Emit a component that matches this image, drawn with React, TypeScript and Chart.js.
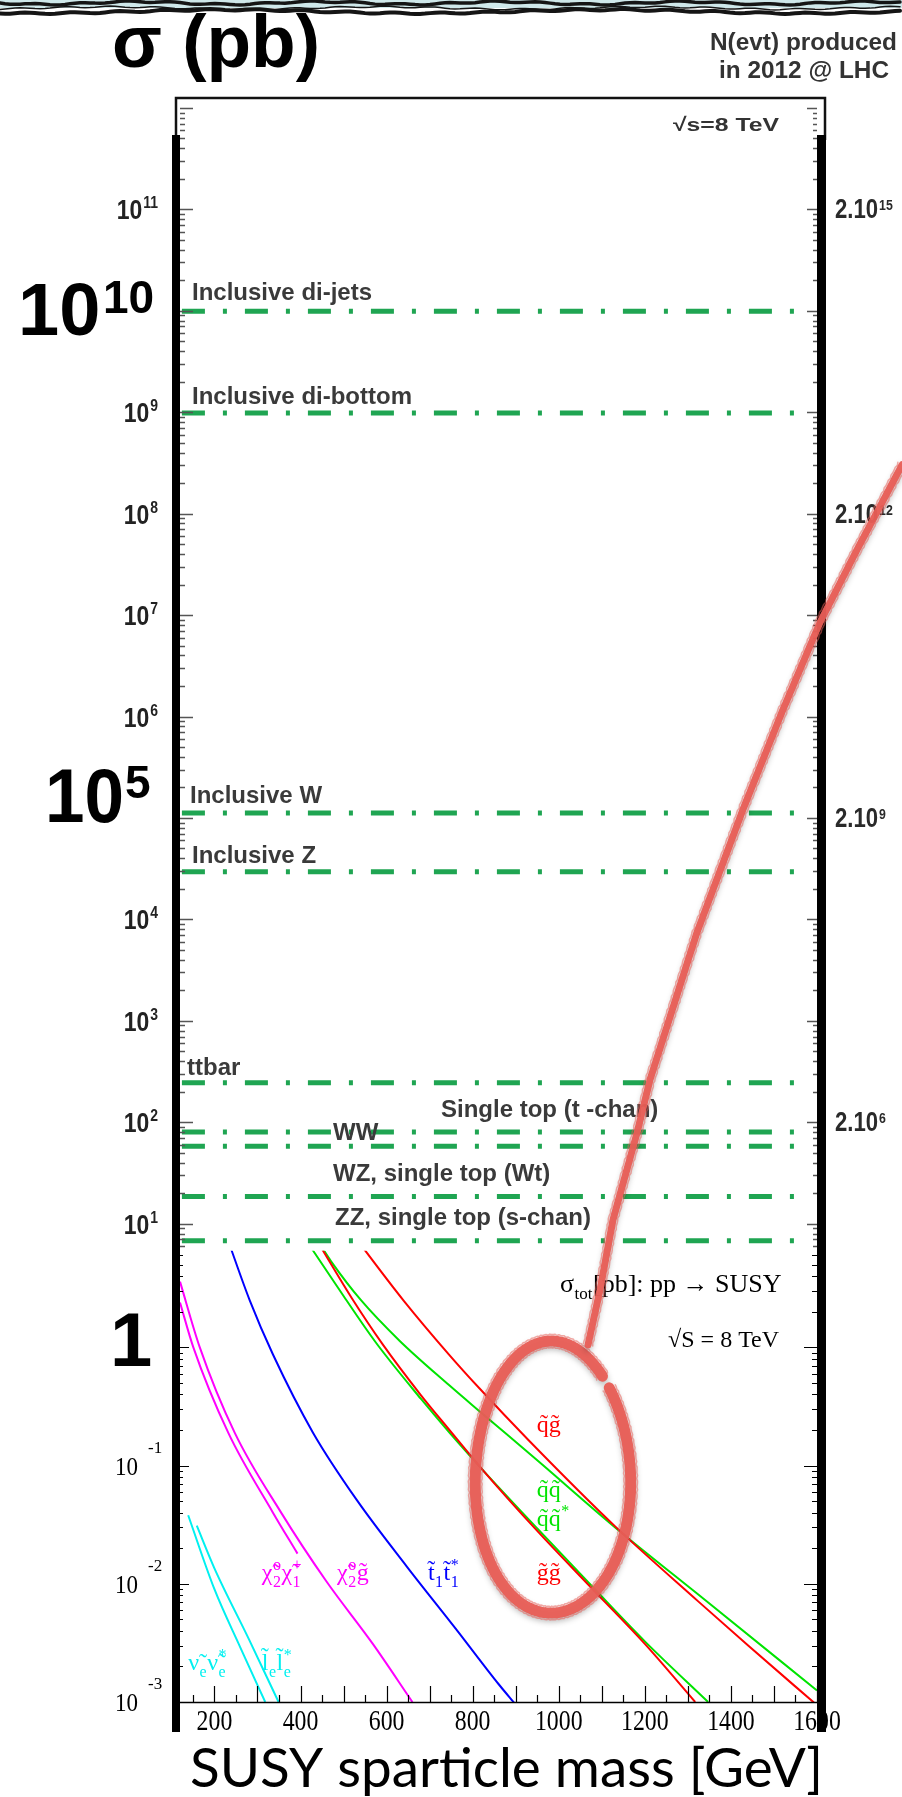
import { useEffect, useRef } from 'react';
import { Chart, registerables } from 'chart.js';

Chart.register(...registerables);

// ---- Standard-model processes at √s = 8 TeV (σ in pb) ----
const processNames = [
  'Inclusive di-jets',
  'Inclusive di-bottom',
  'Inclusive W',
  'Inclusive Z',
  'ttbar',
  'Single top (t -chan)',
  'WW',
  'WZ, single top (Wt)',
  'ZZ, single top (s-chan)',
];
const processXsec = [9.9e9, 9.8e8, 1.12e5, 2.95e4, 245, 80, 58, 18.5, 6.8];

// Events produced in 2012: N = σ × ∫L with ∫L = 20 fb⁻¹ = 2·10⁴ pb⁻¹
const lumiInvPb = 2e4;
const eventCounts = [2e15, 2e12, 2e9, 2e6];
const eventExps = ['15', '12', '9', '6'];

// Labelled decades
const upperDecadeLabels = [11, 9, 8, 7, 6, 4, 3, 2, 1];
const lowerDecadeLabels = [-1, -2, -3];
const massTickLabels = [200, 400, 600, 800, 1000, 1200, 1400, 1600];

// ---- SUSY pair production, σ (pb) vs sparticle mass (GeV) ----
const sqglMass = [530, 545, 640, 745, 815, 930, 1131, 1324, 1440, 1600];
const sqglXsec = [8.3, 7.0, 2.48, 0.87, 0.453, 0.164, 0.0306, 0.0071, 0.003, 0.00094];
const glglMass = [440, 452, 520, 591, 680, 745, 822, 950, 1070, 1200, 1317];
const glglXsec = [7.8, 6.6, 2.58, 1.06, 0.393, 0.202, 0.093, 0.028, 0.0097, 0.0031, 0.001];
const sqsqMass = [445, 455, 471, 540, 630, 745, 815, 950, 1131, 1340, 1600];
const sqsqXsec = [7.5, 6.55, 5.35, 2.52, 1.14, 0.48, 0.29, 0.111, 0.03, 0.0073, 0.00125];
const sqasqMass = [418, 429, 500, 575, 680, 745, 822, 950, 1080, 1200, 1347];
const sqasqXsec = [7.6, 6.6, 2.72, 1.1, 0.366, 0.192, 0.093, 0.0294, 0.0093, 0.00326, 0.001];
const stopMass = [225, 240, 282, 336, 429, 531, 647, 760, 860, 900];
const stopXsec = [9.5, 6.6, 2.5, 0.87, 0.19, 0.051, 0.014, 0.0042, 0.00142, 0.00095];
const n2glMass = [120, 166, 247, 355, 460, 568, 660];
const n2glXsec = [3.6, 1.0, 0.19, 0.04, 0.0105, 0.0031, 0.001];
const n2c1Mass = [120, 151, 232, 336, 393];
const n2c1Xsec = [2.4, 1.0, 0.19, 0.04, 0.018];
const snuMass = [139, 200, 260, 318];
const snuXsec = [0.038, 0.009, 0.0029, 0.001];
const selMass = [159, 200, 280, 349];
const selXsec = [0.031, 0.0135, 0.0034, 0.001];

// Hand-drawn callout (in GeV / pb of the SUSY panel)
const ringMass = [805, 1166];
const ringXsec = [1.1, 0.0055];
const pointerMass = [1068, 1096, 1126, 1182, 1212, 1321, 1428, 1519, 1607, 1693, 1798];
const pointerXsec = [1.05, 3.08, 12.0, 65.5, 184, 3230, 3.55e4, 2.39e5, 1.36e6, 5.6e6, 2.94e7];

const RED = '#ff0000';
const GREEN = '#00e400';
const BLUE = '#0000ff';
const MAGENTA = '#ff00ff';
const CYAN = '#00f0f0';
const SM_GREEN = '#1fa552';
const INK = '#3a3a3a';

// Layout of the two stacked panels (canvas pixels)
const AREA = { left: 180, right: 817, top: 100, bottom: 1702 };
const UPPER_BOTTOM = 1250.7;
const processLabelDx = [12, 12, 10, 12, 7, 261, 153, 153, 155];
const processLabelRise = [11, 9, 10, 9, 8, 15, 6, 16, 16];

type Run = { t: string; sub?: string; sup?: string };
const T = '\u0303';
const susyLabels: { runs: Run[]; color: string; m: number; s: number; size: number }[] = [
  { runs: [{ t: `q${T}g${T}` }], color: RED, m: 949, s: 0.194, size: 24 },
  { runs: [{ t: `q${T}q${T}` }], color: GREEN, m: 949, s: 0.0543, size: 24 },
  { runs: [{ t: `q${T}q${T}`, sup: '*' }], color: GREEN, m: 949, s: 0.031, size: 24 },
  { runs: [{ t: `g${T}g${T}` }], color: RED, m: 949, s: 0.0108, size: 24 },
  { runs: [{ t: `χ${T}`, sub: '2', sup: 'o' }, { t: `χ${T}`, sub: '1', sup: '+' }], color: MAGENTA, m: 310, s: 0.0108, size: 24 },
  { runs: [{ t: `χ${T}`, sub: '2', sup: 'o' }, { t: `g${T}` }], color: MAGENTA, m: 485, s: 0.0108, size: 24 },
  { runs: [{ t: `t${T}`, sub: '1' }, { t: `t${T}`, sub: '1', sup: '*' }], color: BLUE, m: 696, s: 0.0108, size: 24 },
  { runs: [{ t: `ν${T}`, sub: 'e' }, { t: `ν${T}`, sub: 'e', sup: '*' }], color: CYAN, m: 139, s: 0.00187, size: 24 },
  { runs: [{ t: `l${T}`, sub: 'e' }, { t: `l${T}`, sub: 'e', sup: '*' }], color: CYAN, m: 310, s: 0.00187, size: 24 },
  { runs: [{ t: 'σ', sub: 'tot' }, { t: '[pb]: pp → SUSY' }], color: '#000', m: 1003, s: 2.96, size: 26 },
  { runs: [{ t: '√S = 8 TeV' }], color: '#000', m: 1254, s: 1.0, size: 24 },
];

function put(
  ctx: CanvasRenderingContext2D,
  s: string,
  x: number,
  y: number,
  font: string,
  color: string,
  opts: { align?: 'left' | 'center' | 'right'; sx?: number; width?: number } = {},
) {
  ctx.save();
  ctx.font = font;
  ctx.fillStyle = color;
  ctx.textBaseline = 'alphabetic';
  ctx.textAlign = 'left';
  const w = ctx.measureText(s).width;
  const sx = opts.width ? opts.width / w : opts.sx ?? 1;
  const sw = w * sx;
  let x0 = x;
  if (opts.align === 'center') x0 = x - sw / 2;
  else if (opts.align === 'right') x0 = x - sw;
  ctx.translate(x0, y);
  ctx.scale(sx, 1);
  ctx.fillText(s, 0, 0);
  ctx.restore();
  return sw;
}

function widthOf(ctx: CanvasRenderingContext2D, s: string, font: string, sx = 1) {
  ctx.save();
  ctx.font = font;
  const w = ctx.measureText(s).width * sx;
  ctx.restore();
  return w;
}

function drawRuns(ctx: CanvasRenderingContext2D, runs: Run[], x: number, y: number, size: number, color: string) {
  ctx.save();
  ctx.fillStyle = color;
  ctx.textAlign = 'left';
  ctx.textBaseline = 'alphabetic';
  const small = Math.round(size * 0.66);
  let cx = x;
  for (const r of runs) {
    ctx.font = `${size}px "Liberation Serif"`;
    ctx.fillText(r.t, cx, y);
    cx += ctx.measureText(r.t).width;
    ctx.font = `${small}px "Liberation Serif"`;
    let adv = 0;
    if (r.sub) {
      ctx.fillText(r.sub, cx + 0.5, y + size * 0.3);
      adv = Math.max(adv, ctx.measureText(r.sub).width + 1);
    }
    if (r.sup) {
      ctx.fillText(r.sup, cx + 0.5, y - size * 0.42);
      adv = Math.max(adv, ctx.measureText(r.sup).width + 1);
    }
    cx += adv;
  }
  ctx.restore();
}

function decadeTicks(
  ctx: CanvasRenderingContext2D,
  scale: any,
  x0: number,
  dir: number,
  from: number,
  to: number,
  major: number,
  minor: number,
) {
  ctx.beginPath();
  for (let k = -4; k <= 13; k++) {
    for (let m = 1; m <= 9; m++) {
      const py = scale.getPixelForValue(m * Math.pow(10, k));
      if (py < from - 0.5 || py > to + 0.5) continue;
      const yy = Math.round(py) + 0.5;
      ctx.moveTo(x0, yy);
      ctx.lineTo(x0 + dir * (m === 1 ? major : minor), yy);
    }
  }
  ctx.stroke();
}

function densify(pts: [number, number][], step: number) {
  const out: [number, number][] = [];
  for (let i = 0; i < pts.length - 1; i++) {
    const [ax, ay] = pts[i];
    const [bx, by] = pts[i + 1];
    const n = Math.max(1, Math.ceil(Math.hypot(bx - ax, by - ay) / step));
    for (let j = 0; j < n; j++) out.push([ax + ((bx - ax) * j) / n, ay + ((by - ay) * j) / n]);
  }
  out.push(pts[pts.length - 1]);
  return out;
}

// crayon-like stroke with ragged edges and a soft drop shadow
function roughStroke(ctx: CanvasRenderingContext2D, pts: [number, number][], width: number, color: string) {
  ctx.save();
  ctx.lineCap = 'round';
  ctx.lineJoin = 'round';
  ctx.strokeStyle = color;
  ctx.shadowColor = 'rgba(0,0,0,0.3)';
  ctx.shadowBlur = 6;
  ctx.shadowOffsetY = 3;
  ctx.lineWidth = width;
  ctx.beginPath();
  pts.forEach(([px, py], i) => (i ? ctx.lineTo(px, py) : ctx.moveTo(px, py)));
  ctx.stroke();
  ctx.shadowColor = 'transparent';
  for (const side of [-1, 1]) {
    ctx.lineWidth = 1.5;
    ctx.globalAlpha = 0.55;
    ctx.beginPath();
    pts.forEach(([px, py], i) => {
      const a = pts[Math.max(0, i - 1)];
      const b = pts[Math.min(pts.length - 1, i + 1)];
      const dx = b[0] - a[0];
      const dy = b[1] - a[1];
      const L = Math.hypot(dx, dy) || 1;
      const off = side * (width / 2 + 0.4 + 1.1 * Math.abs(Math.sin(i * 1.9 + side)));
      const X = px - (dy / L) * off;
      const Y = py + (dx / L) * off;
      if (i === 0) ctx.moveTo(X, Y);
      else ctx.lineTo(X, Y);
    });
    ctx.stroke();
  }
  ctx.restore();
}

const panelPlugin = {
  id: 'xsecPanels',
  afterDraw(chart: any) {
    const ctx: CanvasRenderingContext2D = chart.ctx;
    const { left, right, top, bottom } = chart.chartArea;
    const xs = chart.scales.x;
    const yHi = chart.scales.yHigh;
    const yLo = chart.scales.yLow;

    // sketchy torn band along the very top
    ctx.save();
    ctx.fillStyle = '#cfe8ea';
    ctx.fillRect(0, 0, 902, 8);
    ctx.strokeStyle = '#151515';
    ctx.lineCap = 'round';
    const band = (base: number, a: number, p: number, ph: number, w: number) => {
      ctx.lineWidth = w;
      ctx.beginPath();
      for (let px = 0; px <= 902; px += 5) {
        const py = base + a * Math.sin(px / p + ph) + 0.7 * Math.sin(px / 7.3 + ph);
        if (px === 0) ctx.moveTo(px, py);
        else ctx.lineTo(px, py);
      }
      ctx.stroke();
    };
    band(3, 1.4, 29, 0, 3.5);
    band(11.5, 1.8, 61, 1, 4);
    band(8, 1.2, 43, 2.2, 1.5);
    ctx.restore();

    // SM process names above their lines
    processNames.forEach((name, i) => {
      const py = yHi.getPixelForValue(processXsec[i]);
      put(ctx, name, left + processLabelDx[i], py - processLabelRise[i], 'bold 24px "Liberation Sans"', INK);
    });

    // tick marks, upper panel
    ctx.save();
    ctx.strokeStyle = '#555';
    ctx.lineWidth = 1.5;
    decadeTicks(ctx, yHi, left, 1, top, UPPER_BOTTOM, 13, 5);
    decadeTicks(ctx, yHi, right, -1, top, UPPER_BOTTOM, 10, 4);
    ctx.restore();

    // tick marks, lower panel
    ctx.save();
    ctx.strokeStyle = '#000';
    ctx.lineWidth = 1.2;
    decadeTicks(ctx, yLo, left, 1, UPPER_BOTTOM, bottom, 9, 3);
    decadeTicks(ctx, yLo, right, -1, UPPER_BOTTOM, bottom, 13, 5);
    ctx.beginPath();
    for (let m = 150; m <= 1600; m += 50) {
      const px = Math.round(xs.getPixelForValue(m)) + 0.5;
      ctx.moveTo(px, bottom);
      ctx.lineTo(px, bottom - (m % 100 === 0 ? 16 : 7));
    }
    ctx.stroke();
    ctx.lineWidth = 1.5;
    ctx.beginPath();
    ctx.moveTo(left, bottom + 0.5);
    ctx.lineTo(right, bottom + 0.5);
    ctx.stroke();
    ctx.restore();

    // left labels of the upper panel
    const sxN = 0.82;
    upperDecadeLabels.forEach((e) => {
      const py = yHi.getPixelForValue(Math.pow(10, e));
      const bf = 'bold 28px "Liberation Sans"';
      const sf = 'bold 17px "Liberation Sans"';
      const sw = widthOf(ctx, String(e), sf, sxN);
      const bw = widthOf(ctx, '10', bf, sxN);
      put(ctx, '10', 158 - sw - bw - 1, py + 10, bf, '#222', { sx: sxN });
      put(ctx, String(e), 158 - sw, py - 1, sf, '#222', { sx: sxN });
    });

    // right labels: number of events
    eventCounts.forEach((n, i) => {
      const py = yHi.getPixelForValue(n / lumiInvPb);
      const w = put(ctx, '2.10', right + 18, py + 9, 'bold 27px "Liberation Sans"', '#2a2a2a', { sx: sxN });
      put(ctx, eventExps[i], right + 19 + w, py + 1, 'bold 15px "Liberation Sans"', '#2a2a2a', { sx: sxN });
    });

    // lower panel labels
    lowerDecadeLabels.forEach((e) => {
      const py = yLo.getPixelForValue(Math.pow(10, e));
      put(ctx, '10', 138, py + 9, '25px "Liberation Serif"', '#000', { align: 'right', sx: 0.92 });
      put(ctx, String(e), 148, py - 13, '17px "Liberation Serif"', '#000');
    });
    massTickLabels.forEach((m) => {
      put(ctx, String(m), xs.getPixelForValue(m), 1730, '29px "Liberation Serif"', '#000', { align: 'center', sx: 0.82 });
    });
    susyLabels.forEach((l) => {
      drawRuns(ctx, l.runs, xs.getPixelForValue(l.m), yLo.getPixelForValue(l.s), l.size, l.color);
    });

    // upper panel frame and the heavy side bars
    ctx.save();
    ctx.strokeStyle = '#111';
    ctx.lineWidth = 2.5;
    ctx.beginPath();
    ctx.moveTo(176, 140);
    ctx.lineTo(176, 98);
    ctx.lineTo(825, 98);
    ctx.lineTo(825, 140);
    ctx.stroke();
    ctx.fillStyle = '#000';
    ctx.fillRect(172, 135, 8, 1597);
    ctx.fillRect(817, 135, 9, 1597);
    ctx.restore();

    // big decade call-outs
    const e10 = yHi.getPixelForValue(1e10);
    put(ctx, '10', 18, e10 + 24, 'bold 74px "Liberation Sans"', '#000');
    put(ctx, '10', 103, e10 + 2, 'bold 46px "Liberation Sans"', '#000');
    const e5 = yHi.getPixelForValue(1e5);
    put(ctx, '10', 45, e5 + 4, 'bold 76px "Liberation Sans"', '#000', { width: 79 });
    put(ctx, '5', 125, e5 - 20, 'bold 46px "Liberation Sans"', '#000');
    const e0 = yLo.getPixelForValue(1);
    put(ctx, '1', 110, e0 + 19, 'bold 76px "Liberation Sans"', '#000');

    // titles
    put(ctx, 'σ (pb)', 112, 67, 'bold 74px "Liberation Sans"', '#000', { width: 208 });
    put(ctx, 'N(evt) produced', 710, 50, 'bold 23px "Liberation Sans"', '#333', { width: 187 });
    put(ctx, 'in 2012 @ LHC', 719, 78, 'bold 23px "Liberation Sans"', '#333', { width: 170 });
    put(ctx, '√s=8 TeV', 673, 131, 'bold 19px "Liberation Sans"', '#333', { width: 106 });
    put(ctx, 'SUSY sparticle mass [GeV]', 190, 1787, '54px Lato', '#000', { width: 633 });

    // hand-drawn ring around the strong-production curves and its pointer
    const xl = xs.getPixelForValue(ringMass[0]);
    const xr = xs.getPixelForValue(ringMass[1]);
    const yt = yLo.getPixelForValue(ringXsec[0]);
    const yb = yLo.getPixelForValue(ringXsec[1]);
    const cx = (xl + xr) / 2;
    const cy = (yt + yb) / 2;
    const rx = (xr - xl) / 2;
    const ry = (yb - yt) / 2;
    const ring: [number, number][] = [];
    for (let t = -0.74; t <= 2 * Math.PI - 0.85; t += 0.02) {
      const wob = 1 + 0.012 * Math.sin(3 * t + 0.5);
      ring.push([cx + rx * wob * Math.cos(t), cy + ry * wob * Math.sin(t)]);
    }
    const ink = 'rgba(232,94,86,0.96)';
    roughStroke(ctx, ring, 11, ink);
    const ptr: [number, number][] = pointerMass.map((m, i) => [
      xs.getPixelForValue(m),
      yLo.getPixelForValue(pointerXsec[i]),
    ]);
    roughStroke(ctx, densify(ptr, 3), 7, ink);
  },
};

export default function App() {
  const ref = useRef<HTMLCanvasElement | null>(null);

  useEffect(() => {
    document.body.style.margin = '0';
    const canvas = ref.current;
    if (!canvas) return;

    const clipLower = { left: 0, right: 0, top: -(UPPER_BOTTOM - AREA.top), bottom: 0 };
    const curve = (mass: number[], xsec: number[], color: string) => ({
      data: mass.map((m, i) => ({ x: m, y: xsec[i] })),
      xAxisID: 'x',
      yAxisID: 'yLow',
      borderColor: color,
      borderWidth: 2,
      pointRadius: 0,
      fill: false,
      cubicInterpolationMode: 'monotone' as const,
      clip: clipLower,
    });

    const smLines = processXsec.map((v) => ({
      data: [
        { x: 0.003, y: v },
        { x: 0.97, y: v },
      ],
      xAxisID: 'xHigh',
      yAxisID: 'yHigh',
      borderColor: SM_GREEN,
      borderWidth: 5,
      borderDash: [23, 18, 4, 18],
      borderCapStyle: 'butt' as const,
      pointRadius: 0,
      fill: false,
    }));

    const chart = new Chart(canvas, {
      type: 'line',
      data: {
        datasets: [
          curve(sqglMass, sqglXsec, RED),
          curve(glglMass, glglXsec, RED),
          curve(sqsqMass, sqsqXsec, GREEN),
          curve(sqasqMass, sqasqXsec, GREEN),
          curve(stopMass, stopXsec, BLUE),
          curve(n2glMass, n2glXsec, MAGENTA),
          curve(n2c1Mass, n2c1Xsec, MAGENTA),
          curve(snuMass, snuXsec, CYAN),
          curve(selMass, selXsec, CYAN),
          ...smLines,
        ] as any,
      },
      options: {
        animation: false,
        responsive: false,
        maintainAspectRatio: false,
        events: [],
        layout: {
          padding: {
            left: AREA.left,
            right: 902 - AREA.right,
            top: AREA.top,
            bottom: 1797 - AREA.bottom,
          },
        },
        plugins: { legend: { display: false }, tooltip: { enabled: false } },
        elements: { point: { radius: 0 } },
        scales: {
          x: { type: 'linear', min: 120, max: 1600, display: false },
          xHigh: { type: 'linear', min: 0, max: 1, display: false },
          yHigh: { type: 'logarithmic', min: Math.pow(10, -3.715), max: Math.pow(10, 12.0775), display: false },
          yLow: { type: 'logarithmic', min: 1e-3, max: Math.pow(10, 10.553), display: false },
        },
      },
      plugins: [panelPlugin],
    });
    return () => chart.destroy();
  }, []);

  return (
    <div style={{ width: 902, height: 1797, background: '#fff' }}>
      <canvas ref={ref} width={902} height={1797} style={{ display: 'block', width: 902, height: 1797 }} />
    </div>
  );
}
